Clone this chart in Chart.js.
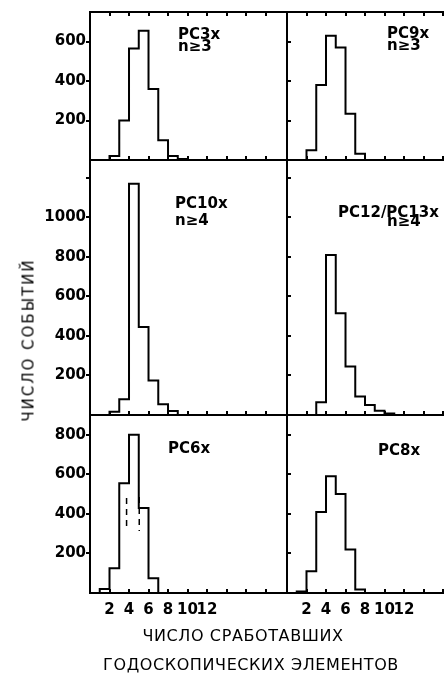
<!DOCTYPE html>
<html>
<head>
<meta charset="utf-8">
<script src="https://cdn.jsdelivr.net/npm/chart.js@4.4.0/dist/chart.umd.min.js"></script>
<style>
  html, body { margin: 0; padding: 0; background: #fff; overflow: hidden; }
  #fig { position: relative; width: 444px; height: 681px; }
  canvas { position: absolute; }
  .txt { position: absolute; font-family: "DejaVu Sans", sans-serif; color: #000; white-space: nowrap; }
  #ytitle { left: 29px; top: 340px; font-size: 15px; line-height: 15px; letter-spacing: 2px; transform: translate(-50%, -50%) rotate(-90deg); }
  #xtitle1 { left: 243px; top: 628px; font-size: 16px; line-height: 16px; letter-spacing: 0.6px; transform: translateX(-50%); }
  #xtitle2 { left: 251px; top: 657px; font-size: 16px; line-height: 16px; letter-spacing: 0.6px; transform: translateX(-50%); }
</style>
</head>
<body>
<div id="fig">
  <canvas id="pc3"></canvas>
  <canvas id="pc9"></canvas>
  <canvas id="pc10"></canvas>
  <canvas id="pc12"></canvas>
  <canvas id="pc6"></canvas>
  <canvas id="pc8"></canvas>
  <div class="txt" id="ytitle">ЧИСЛО СОБЫТИЙ</div>
  <div class="txt" id="xtitle1">ЧИСЛО СРАБОТАВШИХ</div>
  <div class="txt" id="xtitle2">ГОДОСКОПИЧЕСКИХ ЭЛЕМЕНТОВ</div>
</div>
<script>
// left edge of each bin (number of fired elements) and number of events in it
var pc3Bins = [2, 3, 4, 5, 6, 7, 8, 9];
var pc3Counts = [20, 200, 565, 655, 360, 100, 20, 5];
var pc9Bins = [2, 3, 4, 5, 6, 7];
var pc9Counts = [50, 380, 630, 570, 235, 32];
var pc10Bins = [2, 3, 4, 5, 6, 7, 8];
var pc10Counts = [17, 80, 1170, 445, 175, 55, 20];
var pc12Bins = [3, 4, 5, 6, 7, 8, 9, 10];
var pc12Counts = [65, 810, 515, 245, 93, 50, 22, 8];
var pc6Bins = [1, 2, 3, 4, 5, 6];
var pc6Counts = [20, 125, 555, 800, 430, 75];
var pc8Bins = [1, 2, 3, 4, 5, 6, 7];
var pc8Counts = [8, 110, 410, 590, 500, 220, 18];
// faint dashed contour inside PC6x
var pc6DashX = [3.75, 5.05];
var pc6DashTop = [480, 485];
var pc6DashBottom = [330, 313];

var xTicksLeft = [2, 4, 6, 8, 10, 12, 14, 16, 18];
var xTicksRight = [2, 4, 6, 8, 10, 12, 14, 16];
var xLabels = [2, 4, 6, 8, 10, 12];
var yTicksRow1 = [200, 400, 600];
var yTicksRow2 = [200, 400, 600, 800, 1000, 1200];
var yTicksRow3 = [200, 400, 600, 800];
var yLabels = [200, 400, 600, 800, 1000];

var INK = '#000';
var FONT = '"DejaVu Sans", sans-serif';
var PANEL_LEFT = [90, 287], PANEL_RIGHT = [287, 444];
var ROW_TOP = [12, 160, 415], ROW_BOTTOM = [160, 415, 593];
var X_MAX = [20.2, 16.1];

function steps(bins, counts) {
    var pts = [{x: bins[0], y: 0}];
    for (var i = 0; i < bins.length; i++) pts.push({x: bins[i], y: counts[i]});
    pts.push({x: bins[bins.length - 1] + 1, y: 0});
    return pts;
}

function histo(bins, counts) {
    return {
        data: steps(bins, counts),
        stepped: true,
        borderColor: INK,
        borderWidth: 2,
        pointRadius: 0,
        fill: false
    };
}

function setTicks(list) {
    return function(s) { s.ticks = list.map(function(v) { return {value: v}; }); };
}

function fixSize(prop, size) {
    return function(s) {
        s[prop] = size;
        s.paddingLeft = s.paddingRight = s.paddingTop = s.paddingBottom = 0;
    };
}

function onlyLabels(list) {
    return function(v) { return list.indexOf(v) >= 0 ? String(v) : ''; };
}

var panelText = {
    id: 'panelText',
    afterDraw: function(chart, args, opts) {
        var ctx = chart.ctx, area = chart.chartArea;
        ctx.save();
        ctx.font = 'bold 15px ' + FONT;
        ctx.fillStyle = INK;
        ctx.textBaseline = 'alphabetic';
        (opts.lines || []).forEach(function(l) {
            ctx.fillText(l.text, area.left + l.dx, area.top + l.dy);
        });
        ctx.restore();
    }
};

function makePanel(id, col, row, datasets, yMax, yTicks, lines) {
    var axisW = col === 0 ? 90 : 20;
    var left = PANEL_LEFT[col] - axisW;
    var padRight = col === 0 ? 3 : 0;
    var padTop = 4;
    var bottomH = row === 2 ? 34 : 4;
    var canvas = document.getElementById(id);
    canvas.width = PANEL_RIGHT[col] + padRight - left;
    canvas.height = padTop + ROW_BOTTOM[row] - ROW_TOP[row] + bottomH;
    canvas.style.left = left + 'px';
    canvas.style.top = (ROW_TOP[row] - padTop) + 'px';

    var scales = {
        x: {
            type: 'linear', position: 'bottom', min: 0, max: X_MAX[col],
            afterBuildTicks: setTicks(col === 0 ? xTicksLeft : xTicksRight),
            afterFit: fixSize('height', bottomH),
            grid: {drawOnChartArea: false, drawTicks: true, tickLength: -4, color: INK, lineWidth: 2, tickWidth: 2},
            border: {display: true, color: INK, width: 2},
            ticks: {
                display: row === 2, autoSkip: false, maxRotation: 0, padding: 12,
                color: INK, font: {family: FONT, size: 15, weight: 'bold'},
                callback: onlyLabels(xLabels)
            }
        },
        y: {
            type: 'linear', position: 'left', min: 0, max: yMax,
            afterBuildTicks: setTicks(yTicks),
            afterFit: fixSize('width', axisW),
            grid: {drawOnChartArea: false, drawTicks: true, tickLength: col === 0 ? 4 : -4, color: INK, lineWidth: 2, tickWidth: 2},
            border: {display: true, color: INK, width: 2},
            ticks: {
                display: col === 0, padding: 0, color: INK, font: {family: FONT, size: 15, weight: 'bold'},
                callback: onlyLabels(yLabels)
            }
        }
    };
    if (row === 0) {
        scales.x2 = {
            axis: 'x', type: 'linear', position: 'top', min: 0, max: X_MAX[col],
            afterBuildTicks: setTicks(col === 0 ? xTicksLeft : xTicksRight),
            afterFit: fixSize('height', padTop),
            grid: {drawOnChartArea: false, drawTicks: true, tickLength: -4, color: INK, lineWidth: 2, tickWidth: 2},
            border: {display: true, color: INK, width: 2},
            ticks: {display: false}
        };
    }

    return new Chart(canvas, {
        type: 'line',
        data: {datasets: datasets},
        options: {
            responsive: false,
            animation: false,
            events: [],
            layout: {autoPadding: false, padding: {top: row === 0 ? 0 : padTop, right: padRight, left: 0, bottom: 0}},
            scales: scales,
            plugins: {
                legend: {display: false},
                tooltip: {enabled: false},
                panelText: {lines: lines}
            }
        },
        plugins: [panelText]
    });
}

var pc6Dashed = pc6DashX.map(function(x, i) {
    return {
        data: [{x: x, y: pc6DashTop[i]}, {x: x, y: pc6DashBottom[i]}],
        borderColor: INK, borderWidth: 1.5, borderDash: [6, 5], pointRadius: 0, fill: false
    };
});

makePanel('pc3', 0, 0, [histo(pc3Bins, pc3Counts)], 750, yTicksRow1,
    [{text: 'PC3x', dx: 88, dy: 27}, {text: 'n≥3', dx: 88, dy: 39}]);
makePanel('pc9', 1, 0, [histo(pc9Bins, pc9Counts)], 750, yTicksRow1,
    [{text: 'PC9x', dx: 100, dy: 26}, {text: 'n≥3', dx: 100, dy: 38}]);
makePanel('pc10', 0, 1, [histo(pc10Bins, pc10Counts)], 1290, yTicksRow2,
    [{text: 'PC10x', dx: 85, dy: 48}, {text: 'n≥4', dx: 85, dy: 65}]);
makePanel('pc12', 1, 1, [histo(pc12Bins, pc12Counts)], 1290, yTicksRow2,
    [{text: 'PC12/PC13x', dx: 51, dy: 57}, {text: 'n≥4', dx: 100, dy: 66}]);
makePanel('pc6', 0, 2, [histo(pc6Bins, pc6Counts)].concat(pc6Dashed), 900, yTicksRow3,
    [{text: 'PC6x', dx: 78, dy: 38}]);
makePanel('pc8', 1, 2, [histo(pc8Bins, pc8Counts)], 900, yTicksRow3,
    [{text: 'PC8x', dx: 91, dy: 40}]);
</script>
</body>
</html>
